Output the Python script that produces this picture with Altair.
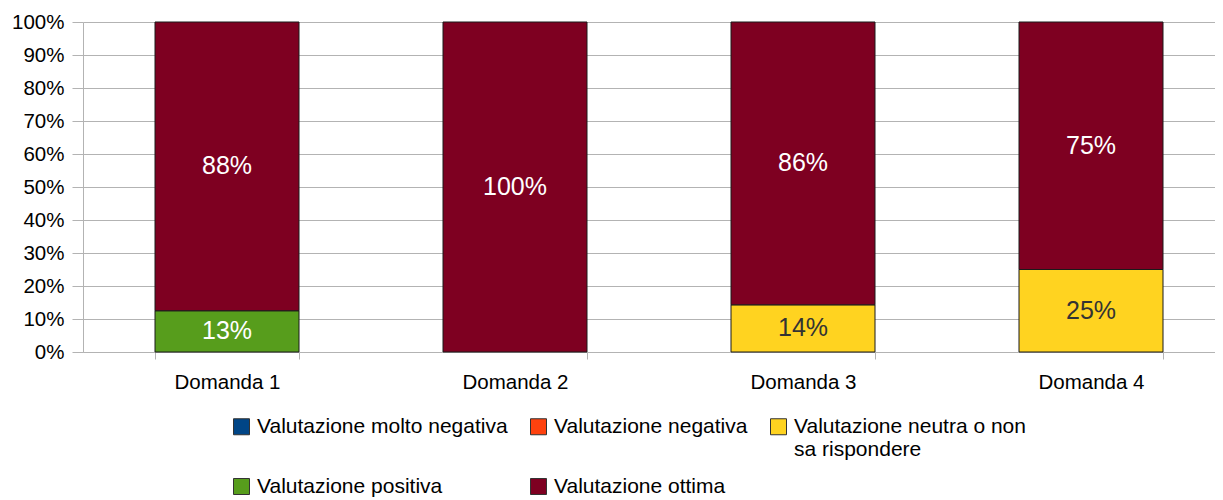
import altair as alt
import pandas as pd

questions = ["Domanda 1", "Domanda 2", "Domanda 3", "Domanda 4"]
categories = [
    "Valutazione molto negativa",
    "Valutazione negativa",
    "Valutazione neutra o non sa rispondere",
    "Valutazione positiva",
    "Valutazione ottima",
]
colors = ["#004586", "#ff420e", "#ffd320", "#579d1c", "#7e0021"]

molto_negativa = [0.0, 0.0, 0.0, 0.0]
negativa = [0.0, 0.0, 0.0, 0.0]
neutra = [0.0, 0.0, 0.1429, 0.25]
positiva = [0.125, 0.0, 0.0, 0.0]
ottima = [0.875, 1.0, 0.8571, 0.75]
y_ticks = [0.0, 0.1, 0.2, 0.3, 0.4, 0.5, 0.6, 0.7, 0.8, 0.9, 1.0]

series = [molto_negativa, negativa, neutra, positiva, ottima]
rows = []
for ci, (cat, vals) in enumerate(zip(categories, series)):
    for q, v in zip(questions, vals):
        if v > 0:
            rows.append({"question": q, "category": cat, "value": v, "idx": ci})
df = pd.DataFrame(rows)

FONT = "Liberation Sans"
NEUTRA = categories[2]
GRID = "#b3b3b3"

x_scale = alt.Scale(paddingInner=0.5, paddingOuter=0.25, range=[0, 1152])
y_scale = alt.Scale(domain=[0, 1])

x_axis = alt.Axis(
    title=None,
    labelAngle=0,
    tickBand="extent",
    tickSize=7,
    tickColor=GRID,
    domainColor=GRID,
    labelFont=FONT,
    labelFontSize=20.5,
    labelColor="black",
    labelPadding=13,
    grid=False,
)

y_axis = alt.Axis(
    title=None,
    format="%",
    values=y_ticks,
    labelOverlap=False,
    grid=True,
    gridColor=GRID,
    tickColor=GRID,
    tickSize=11,
    domainColor=GRID,
    labelFont=FONT,
    labelFontSize=20.5,
    labelColor="black",
    labelPadding=8,
)

base = alt.Chart(df)

bars = base.mark_bar(stroke="#1a1a1a", strokeWidth=1).encode(
    x=alt.X("question:N", sort=questions, scale=x_scale, axis=x_axis),
    y=alt.Y("value:Q", stack="zero", scale=y_scale, axis=y_axis),
    color=alt.Color(
        "category:N",
        scale=alt.Scale(domain=categories, range=colors),
        legend=alt.Legend(
            title=None,
            orient="none",
            legendX=148,
            legendY=394,
            direction="horizontal",
            columns=3,
            symbolType="square",
            symbolSize=256,
            symbolStrokeColor="#333333",
            symbolStrokeWidth=1,
            labelFont=FONT,
            labelFontSize=21,
            labelColor="black",
            labelLimit=500,
            labelOffset=5,
            columnPadding=20,
            rowPadding=15,
            padding=0,
            labelExpr="datum.label == '" + NEUTRA + "' ? ['Valutazione neutra o non', 'sa rispondere'] : [datum.label, '']",
        ),
    ),
    order=alt.Order("idx:Q"),
)

labels = (
    base.transform_stack(
        stack="value",
        groupby=["question"],
        as_=["y0", "y1"],
        sort=[alt.SortField("idx", order="ascending")],
    )
    .transform_calculate(mid="(datum.y0 + datum.y1) / 2")
    .mark_text(font=FONT, fontSize=25, baseline="middle", align="center")
    .encode(
        x=alt.X("question:N", sort=questions, scale=x_scale, axis=x_axis),
        y=alt.Y("mid:Q", scale=y_scale, axis=y_axis),
        text=alt.Text("value:Q", format=".0%"),
        color=alt.condition(
            "datum.category == '" + NEUTRA + "'",
            alt.value("#333333"),
            alt.value("white"),
        ),
    )
)

chart = (
    alt.layer(bars, labels)
    .properties(
        width=1132,
        height=330,
        autosize=alt.AutoSizeParams(type="none"),
        padding={"left": 75, "top": 14, "right": 0, "bottom": 150},
    )
    .configure_view(stroke=None)
)

chart.save("out.html", embed_options={"renderer": "svg", "actions": False})
